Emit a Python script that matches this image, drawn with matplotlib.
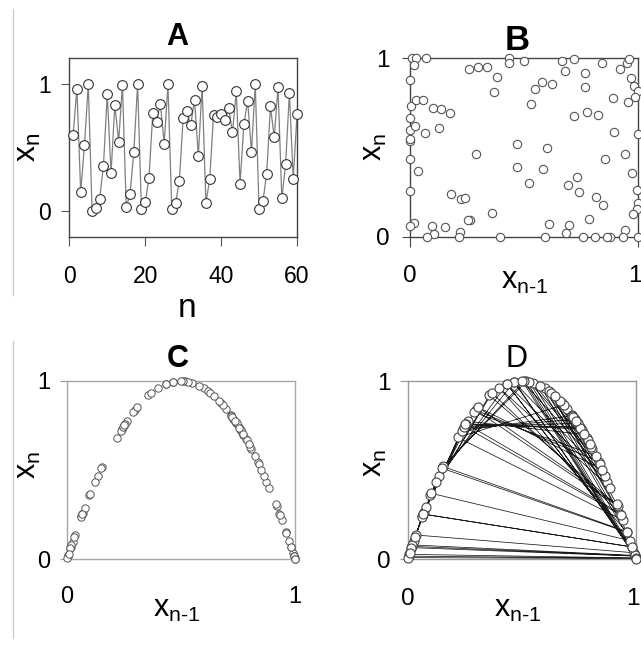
import numpy as np
import matplotlib
matplotlib.use("Agg")
import matplotlib.pyplot as plt
from matplotlib.lines import Line2D
from matplotlib.transforms import ScaledTranslation

plt.rcParams['font.family'] = ['Liberation Sans', 'DejaVu Sans']
plt.rcParams['mathtext.fontset'] = 'custom'
plt.rcParams['mathtext.rm'] = 'Liberation Sans'
plt.rcParams['mathtext.it'] = 'Liberation Sans'

# ---- data ----
# logistic-map time series x_n (first 60 values shown in panel A)
series = [0.600, 0.960, 0.154, 0.520, 0.998, 0.006, 0.026, 0.099, 0.358, 0.919,
          0.298, 0.837, 0.547, 0.991, 0.035, 0.135, 0.467, 0.996, 0.018, 0.071,
          0.262, 0.774, 0.699, 0.842, 0.532, 0.996, 0.016, 0.064, 0.241, 0.732,
          0.784, 0.677, 0.875, 0.435, 0.983, 0.068, 0.252, 0.754, 0.742, 0.765,
          0.719, 0.808, 0.620, 0.942, 0.219, 0.683, 0.866, 0.465, 0.995, 0.020,
          0.079, 0.290, 0.824, 0.581, 0.974, 0.103, 0.369, 0.932, 0.255, 0.760,
          0.730, 0.788, 0.668, 0.887, 0.401, 0.961, 0.150, 0.510, 0.999, 0.004,
          0.016, 0.063, 0.236, 0.721, 0.805, 0.628, 0.934, 0.247, 0.744, 0.762,
          0.725, 0.798, 0.645, 0.916, 0.308, 0.853, 0.502, 0.9995, 0.002, 0.008,
          0.032, 0.124, 0.434, 0.983, 0.067, 0.253, 0.756, 0.738, 0.773, 0.702]
n_shown = 60

# shuffled surrogate lag plot (panel B)
b_prev = [0.007, 0.025, 0.018, 0.070, 0.435, 0.435, 0.501, 0.667, 0.720, 0.677,
          0.768, 0.839, 0.920, 0.952, 0.961, 0.969, 0.982, 0.997, 0.984, 0.955,
          0.891, 0.766, 0.720, 0.774, 0.823, 0.895, 0.943, 0.974, 0.997, 0.993,
          0.997, 0.996, 0.975, 0.942, 0.997, 0.931, 0.876, 0.863, 0.812, 0.756,
          0.695, 0.683, 0.593, 0.609, 0.394, 0.358, 0.261, 0.253, 0.219, 0.213,
          0.155, 0.095, 0.105, 0.073, 0.019, 0.001, 0.000, 0.034, 0.000, 0.000,
          0.000, 0.000, 0.020, 0.000, 0.066, 0.126, 0.006, 0.026, 0.055, 0.102,
          0.137, 0.177, 0.000, 0.258, 0.298, 0.339, 0.381, 0.368, 0.288, 0.467,
          0.467, 0.521, 0.581, 0.599, 0.531, 0.547, 0.577, 0.620, 0.691, 0.731,
          0.742, 0.785, 0.813, 0.844, 0.854, 0.181, 0.223, 0.242]
b_next = [1.000, 1.000, 0.963, 1.000, 1.000, 0.972, 0.985, 0.985, 0.994, 0.931,
          0.920, 0.976, 0.940, 0.972, 0.996, 0.892, 0.845, 0.819, 0.785, 0.757,
          0.776, 0.837, 0.677, 0.699, 0.682, 0.589, 0.465, 0.359, 0.578, 0.262,
          0.187, 0.153, 0.125, 0.037, 0.000, 0.000, 0.000, 0.000, 0.000, 0.000,
          0.065, 0.019, 0.000, 0.069, 0.000, 0.135, 0.095, 0.092, 0.028, 0.000,
          0.052, 0.062, 0.013, 0.000, 0.079, 0.062, 0.258, 0.366, 0.436, 0.535,
          0.546, 0.598, 0.621, 0.664, 0.583, 0.609, 0.733, 0.766, 0.766, 0.720,
          0.714, 0.692, 0.879, 0.942, 0.953, 0.953, 0.893, 0.809, 0.464, 0.520,
          0.393, 0.299, 0.378, 0.499, 0.744, 0.826, 0.867, 0.856, 0.290, 0.335,
          0.250, 0.101, 0.221, 0.179, 0.434, 0.241, 0.209, 0.215]

titles = ['A', 'B', 'C', 'D']

W, H = 641, 647
fig = plt.figure(figsize=(W / 100, H / 100), dpi=100)


def ax_px(l, t, r, b):
    return fig.add_axes([l / W, 1 - b / H, (r - l) / W, (b - t) / H])


def fx(px):
    return px / W


def fy(py):
    return 1 - py / H


def nudge_last_xlabel(ax, dx_px):
    lab = ax.get_xticklabels()[-1]
    lab.set_transform(lab.get_transform() +
                      ScaledTranslation(dx_px / 100, 0, fig.dpi_scale_trans))


# faint composite separator lines
fig.add_artist(Line2D([fx(12.5), fx(12.5)], [fy(9), fy(295)], color='#cccccc', lw=1))
fig.add_artist(Line2D([fx(12.5), fx(12.5)], [fy(341), fy(638)], color='#cccccc', lw=1))

lab_sub = r'$\mathregular{x_{n\text{-}1}}$'
lab_y = r'$\mathregular{x_n}$'

# ---------- Panel A ----------
axA = ax_px(69.3, 58.3, 297, 237)
nvals = np.arange(1, n_shown + 1)
axA.plot(nvals, series[:n_shown], color='#808080', lw=0.9, zorder=2)
axA.plot(nvals, series[:n_shown], 'o', ms=7, mfc='white', mec='#333333', mew=0.8,
         zorder=3, clip_on=False)
axA.set_xlim(0, 60)
axA.set_ylim(-0.2, 1.2)
axA.set_xticks([0, 20, 40, 60])
axA.set_yticks([0, 1])
for s in axA.spines.values():
    s.set_color('#444444'); s.set_linewidth(1)
axA.tick_params(axis='y', length=5.8, width=0.8, color='#555555', pad=7.5, labelsize=16.5)
axA.tick_params(axis='x', length=6.5, width=0.8, color='#555555', pad=14, labelsize=16.5)
fig.text(fx(177), fy(45), titles[0], ha='center', va='baseline', fontsize=22, fontweight='bold')
fig.text(fx(187), fy(316.7), 'n', ha='center', va='baseline', fontsize=24)
fig.text(fx(28), fy(147), lab_y, ha='center', va='center', rotation=90, fontsize=23)

# ---------- Panel B ----------
axB = ax_px(410, 58.3, 638.3, 236.7)
axB.plot(b_prev, b_next, 'o', ms=6, mfc='white', mec='#555555', mew=0.8,
         clip_on=False, zorder=3)
axB.set_xlim(0, 1)
axB.set_ylim(0, 1)
axB.set_xticks([0, 1])
axB.set_yticks([0, 1])
for s in axB.spines.values():
    s.set_color('#444444'); s.set_linewidth(1)
axB.tick_params(axis='y', length=6, width=0.8, color='#444444', pad=9, labelsize=17.5)
axB.tick_params(axis='x', length=7.2, width=0.8, color='#444444', pad=13, labelsize=17.5)
nudge_last_xlabel(axB, -3)
fig.text(fx(517), fy(50), titles[1], ha='center', va='baseline', fontsize=25, fontweight='bold')
fig.text(fx(525), fy(289), lab_sub, ha='center', va='baseline', fontsize=22)
fig.text(fx(374), fy(147), lab_y, ha='center', va='center', rotation=90, fontsize=22)

prev = series[:-1]
nxt = series[1:]

# ---------- Panel C ----------
axC = ax_px(66.7, 381, 295, 559.3)
axC.plot(prev, nxt, 'o', ms=5.3, mfc='white', mec='#555555', mew=0.7,
         clip_on=False, zorder=3)
axC.set_xlim(0, 1)
axC.set_ylim(0, 1)
axC.set_xticks([0, 1])
axC.set_yticks([0, 1])
for s in axC.spines.values():
    s.set_color('#a8a8a8'); s.set_linewidth(1)
axC.tick_params(axis='y', length=4.8, width=0.8, color='#999999', pad=7, labelsize=17)
axC.tick_params(axis='x', length=0, pad=19, labelsize=17)
fig.text(fx(178), fy(367), titles[2], ha='center', va='baseline', fontsize=22, fontweight='bold')
fig.text(fx(177), fy(616.7), lab_sub, ha='center', va='baseline', fontsize=22)
fig.text(fx(28), fy(465), lab_y, ha='center', va='center', rotation=90, fontsize=22)

# ---------- Panel D ----------
axD = ax_px(407.7, 381, 636, 559)
axD.plot(prev, nxt, '-', color='#1a1a1a', lw=0.55, zorder=2)
axD.plot(prev, nxt, 'o', ms=6.5, mfc='white', mec='#444444', mew=0.8,
         clip_on=False, zorder=3)
axD.set_xlim(0, 1)
axD.set_ylim(0, 1)
axD.set_xticks([0, 1])
axD.set_yticks([0, 1])
for s in axD.spines.values():
    s.set_color('#999999'); s.set_linewidth(1)
axD.tick_params(axis='y', length=5.5, width=0.8, color='#999999', pad=6.5, labelsize=17.5)
axD.tick_params(axis='x', length=0, pad=21, labelsize=17.5)
nudge_last_xlabel(axD, -3)
fig.text(fx(517), fy(366.7), titles[3], ha='center', va='baseline', fontsize=22)
fig.text(fx(518), fy(616.7), lab_sub, ha='center', va='baseline', fontsize=22)
fig.text(fx(374), fy(463), lab_y, ha='center', va='center', rotation=90, fontsize=22)

fig.savefig('out.png', dpi=100)
